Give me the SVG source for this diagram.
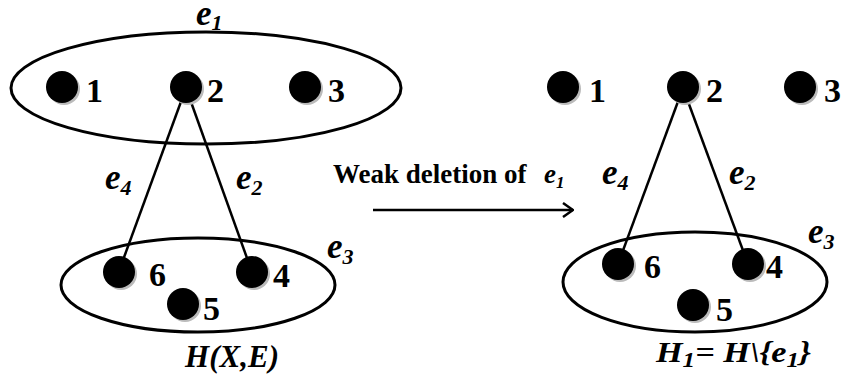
<svg xmlns="http://www.w3.org/2000/svg" width="845" height="379" viewBox="0 0 845 379">
<style>
.edge{fill:none;stroke:#000;stroke-width:3}
.line{stroke:#000;stroke-width:2.5;fill:none}
.dot{fill:#000}
.sh{fill:#bbb}
.num{font-family:"Liberation Serif",serif;font-weight:bold;font-size:34px;fill:#000}
.lab{font-family:"Liberation Serif",serif;font-weight:bold;font-style:italic;font-size:35px;fill:#000}
.sub{font-size:22px}
.cap{font-family:"Liberation Serif",serif;font-weight:bold;font-size:27px;fill:#000}
</style>
<defs>
<marker id="arr" viewBox="0 0 12 16" refX="11" refY="8" markerWidth="12" markerHeight="16" markerUnits="userSpaceOnUse" orient="auto">
<polyline points="1,1 11,8 1,15" fill="none" stroke="#000" stroke-width="2.5"/>
</marker>
</defs>
<g id="connectors">
<line class="line" x1="186" y1="88" x2="119" y2="271"/>
<line class="line" x1="186" y1="88" x2="252" y2="272"/>
<line class="line" x1="683" y1="88" x2="618" y2="264"/>
<line class="line" x1="683" y1="88" x2="748" y2="264"/>
<line class="line" x1="373" y1="210" x2="573" y2="210" marker-end="url(#arr)"/>
</g>
<g id="hyperedge-e1-left">
<ellipse class="edge" cx="206" cy="88" rx="195" ry="56"/>
<text class="lab" x="196" y="25">e<tspan class="sub" dy="5">1</tspan></text>
</g>
<g id="hyperedge-e3-left">
<ellipse class="edge" cx="198" cy="285" rx="137" ry="47"/>
<text class="lab" x="327" y="258">e<tspan class="sub" dy="6">3</tspan></text>
</g>
<g id="hyperedge-e3-right">
<ellipse class="edge" cx="695" cy="282" rx="132" ry="50"/>
<text class="lab" x="808" y="243">e<tspan class="sub" dy="6">3</tspan></text>
</g>
<g id="L1"><circle class="sh" cx="64" cy="89" r="16"/><circle class="dot" cx="62" cy="87" r="16"/><text class="num" x="86" y="102">1</text></g>
<g id="L2"><circle class="sh" cx="188" cy="89" r="16"/><circle class="dot" cx="186" cy="87" r="16"/><text class="num" x="207" y="102">2</text></g>
<g id="L3"><circle class="sh" cx="307" cy="89" r="16"/><circle class="dot" cx="305" cy="87" r="16"/><text class="num" x="328" y="102">3</text></g>
<g id="L6"><circle class="sh" cx="121" cy="274" r="16"/><circle class="dot" cx="119" cy="272" r="16"/><text class="num" x="149" y="286">6</text></g>
<g id="L4"><circle class="sh" cx="254" cy="274" r="16"/><circle class="dot" cx="252" cy="272" r="16"/><text class="num" x="273" y="287">4</text></g>
<g id="L5"><circle class="sh" cx="185" cy="306" r="16"/><circle class="dot" cx="183" cy="304" r="16"/><text class="num" x="203" y="320">5</text></g>
<g id="R1"><circle class="sh" cx="565" cy="89" r="16"/><circle class="dot" cx="563" cy="87" r="16"/><text class="num" x="589" y="102">1</text></g>
<g id="R2"><circle class="sh" cx="685" cy="89" r="16"/><circle class="dot" cx="683" cy="87" r="16"/><text class="num" x="706" y="102">2</text></g>
<g id="R3"><circle class="sh" cx="802" cy="89" r="16"/><circle class="dot" cx="800" cy="87" r="16"/><text class="num" x="824" y="102">3</text></g>
<g id="R6"><circle class="sh" cx="620" cy="266" r="16"/><circle class="dot" cx="618" cy="264" r="16"/><text class="num" x="644" y="278">6</text></g>
<g id="R4"><circle class="sh" cx="750" cy="266" r="16"/><circle class="dot" cx="748" cy="264" r="16"/><text class="num" x="766" y="278">4</text></g>
<g id="R5"><circle class="sh" cx="695" cy="307" r="16"/><circle class="dot" cx="693" cy="305" r="16"/><text class="num" x="716" y="321">5</text></g>
<g id="labels">
<text class="lab" x="105" y="189">e<tspan class="sub" dy="6">4</tspan></text>
<text class="lab" x="236" y="189">e<tspan class="sub" dy="6">2</tspan></text>
<text class="lab" x="602" y="184">e<tspan class="sub" dy="6">4</tspan></text>
<text class="lab" x="729" y="184">e<tspan class="sub" dy="6">2</tspan></text>
<text class="cap" x="333" y="183">Weak deletion of</text>
<text class="lab" x="544" y="183" style="font-size:27px">e<tspan dy="5" style="font-size:17px">1</tspan></text>
<text class="lab" x="185" y="367" style="font-size:31px" textLength="94" lengthAdjust="spacingAndGlyphs">H(X,E)</text>
<text class="lab" x="656" y="362" style="font-size:30px" textLength="155" lengthAdjust="spacingAndGlyphs">H<tspan class="sub" dy="5">1</tspan><tspan dy="-5">= H\{e</tspan><tspan class="sub" dy="5">1</tspan><tspan dy="-5">}</tspan></text>
</g>
</svg>
